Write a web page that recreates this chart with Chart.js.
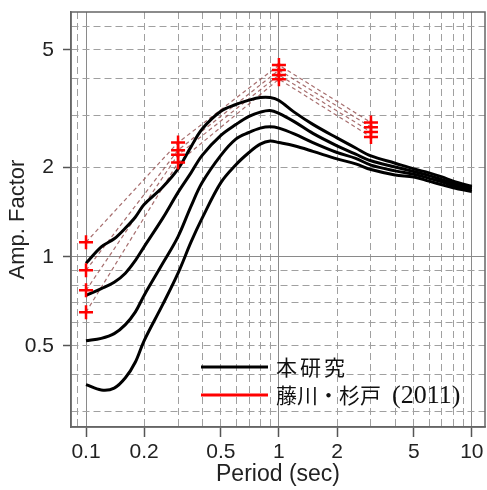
<!DOCTYPE html>
<html>
<head>
<meta charset="utf-8">
<script src="https://cdn.jsdelivr.net/npm/chart.js@4.4.0/dist/chart.umd.min.js"></script>
<style>
  html, body { margin: 0; padding: 0; background: #fff; }
  canvas { display: block; }
</style>
</head>
<body>
<canvas id="ampChart" width="487" height="490"></canvas>
<script>
// periods (sec) for the four study curves
const periods = [0.1, 0.12, 0.14, 0.16, 0.18, 0.2, 0.25, 0.3, 0.35, 0.4, 0.5, 0.6, 0.7, 0.8, 0.9, 1, 1.2, 1.5, 2, 2.5, 3, 4, 5, 6, 7, 8, 10];
const ampA = [0.95, 1.08, 1.15, 1.25, 1.36, 1.5, 1.72, 1.98, 2.35, 2.7, 3.1, 3.27, 3.38, 3.45, 3.45, 3.37, 3.08, 2.8, 2.52, 2.33, 2.19, 2.07, 1.98, 1.92, 1.86, 1.8, 1.73];
const ampB = [0.74, 0.78, 0.82, 0.88, 0.97, 1.08, 1.35, 1.65, 1.92, 2.2, 2.57, 2.8, 2.98, 3.08, 3.12, 3.05, 2.86, 2.61, 2.37, 2.22, 2.11, 2.01, 1.94, 1.88, 1.82, 1.77, 1.71];
const ampC = [0.52, 0.53, 0.55, 0.59, 0.65, 0.74, 0.95, 1.17, 1.48, 1.78, 2.2, 2.5, 2.63, 2.72, 2.75, 2.72, 2.6, 2.43, 2.25, 2.15, 2.04, 1.95, 1.9, 1.84, 1.79, 1.74, 1.69];
const ampD = [0.37, 0.355, 0.36, 0.39, 0.44, 0.52, 0.69, 0.88, 1.12, 1.35, 1.78, 2.05, 2.25, 2.4, 2.46, 2.43, 2.37, 2.27, 2.14, 2.06, 1.97, 1.89, 1.86, 1.8, 1.75, 1.71, 1.66];

// Fujikawa & Sugito (2011) points
const fujiPeriods = [0.1, 0.3, 1, 3];
const fuji1 = [1.12, 2.43, 4.44, 2.84];
const fuji2 = [0.9, 2.29, 4.27, 2.74];
const fuji3 = [0.77, 2.21, 4.11, 2.64];
const fuji4 = [0.65, 2.08, 3.98, 2.54];

// axis ticks / grid
const xTickLabels = [0.1, 0.2, 0.5, 1, 2, 5, 10];
const yTickLabels = [0.5, 1, 2, 5];
const xGrid = [0.09, 0.1, 0.2, 0.3, 0.4, 0.5, 0.6, 0.7, 0.8, 0.9, 1, 2, 3, 4, 5, 6, 7, 8, 9, 10];
const yGrid = [0.3, 0.4, 0.5, 0.6, 0.7, 0.8, 0.9, 1, 2, 3, 4, 5, 6];
const decades = [0.1, 1, 10];
const legendLabels = ['本研究', '藤川・杉戸', '(2011)'];

const toPts = (xs, ys) => xs.map((x, i) => ({ x: x, y: ys[i] }));
const isDecade = v => decades.includes(v);

const studyCurve = ys => ({
    data: toPts(periods, ys),
    borderColor: '#000',
    borderWidth: 3,
    pointRadius: 0,
    showLine: true,
    tension: 0.35
});

const fujiLine = ys => ({
    data: toPts(fujiPeriods, ys),
    borderColor: 'rgba(150, 85, 85, 0.85)',
    borderWidth: 1.2,
    borderDash: [4, 3],
    pointRadius: 0,
    showLine: true
});

const fujiCross = {
    data: [].concat(toPts(fujiPeriods, fuji1), toPts(fujiPeriods, fuji2), toPts(fujiPeriods, fuji3), toPts(fujiPeriods, fuji4)),
    pointStyle: 'cross',
    pointRadius: 7,
    pointBorderWidth: 2.5,
    pointBorderColor: '#ff0000',
    showLine: false
};

const boxPlugin = {
    id: 'box',
    afterDraw(chart) {
        const { ctx, chartArea: a } = chart;
        ctx.save();
        ctx.strokeStyle = '#666';
        ctx.lineWidth = 1.5;
        ctx.strokeRect(a.left, a.top, a.right - a.left, a.bottom - a.top);
        ctx.restore();
    }
};

const jpLegend = {
    id: 'jpLegend',
    afterDraw(chart) {
        const { ctx, chartArea: a } = chart;
        const x0 = a.left + 130, x1 = a.left + 197, tx = a.left + 205;
        const rows = [
            { y: a.bottom - 60, color: '#000' },
            { y: a.bottom - 32, color: '#ff0000' }
        ];
        ctx.save();
        rows.forEach(r => {
            ctx.strokeStyle = r.color;
            ctx.lineWidth = 3;
            ctx.beginPath();
            ctx.moveTo(x0, r.y);
            ctx.lineTo(x1, r.y);
            ctx.stroke();
        });
        ctx.fillStyle = '#111';
        ctx.textBaseline = 'middle';
        ctx.font = '21px "Noto Sans CJK JP"';
        ctx.letterSpacing = '3px';
        ctx.fillText(legendLabels[0], tx, rows[0].y);
        ctx.letterSpacing = '0px';
        ctx.fillText(legendLabels[1], tx, rows[1].y);
        const w = ctx.measureText(legendLabels[1]).width;
        ctx.font = '26px "Liberation Serif"';
        ctx.fillText(legendLabels[2], tx + w + 11, rows[1].y + 1);
        ctx.restore();
    }
};

const tickFont = { family: 'Liberation Sans, Arial, sans-serif', size: 21 };

new Chart(document.getElementById('ampChart').getContext('2d'), {
    type: 'scatter',
    data: {
        datasets: [
            fujiCross,
            studyCurve(ampA), studyCurve(ampB), studyCurve(ampC), studyCurve(ampD),
            fujiLine(fuji1), fujiLine(fuji2), fujiLine(fuji3), fujiLine(fuji4)
        ]
    },
    options: {
        responsive: false,
        animation: false,
        devicePixelRatio: 1,
        layout: { autoPadding: false, padding: { left: 0, top: 12, right: 2, bottom: 0 } },
        plugins: {
            legend: { display: false },
            tooltip: { enabled: false }
        },
        scales: {
            x: {
                type: 'logarithmic',
                min: 0.0836,
                max: 11.7,
                bounds: 'data',
                afterBuildTicks: s => { s.ticks = xGrid.map(v => ({ value: v })); },
                afterFit: s => { s.height = 63; s.paddingLeft = 0; s.paddingRight = 0; },
                ticks: {
                    autoSkip: false,
                    maxRotation: 0,
                    padding: 3,
                    color: '#222',
                    font: tickFont,
                    callback: v => xTickLabels.includes(v) ? String(v) : ''
                },
                grid: {
                    color: c => c.tick && isDecade(c.tick.value) ? '#8a8a8a' : '#a0a0a0',
                    lineWidth: 1,
                    tickLength: 10,
                    tickWidth: 1.5,
                    tickColor: c => c.tick && xTickLabels.includes(c.tick.value) ? '#555' : 'rgba(0,0,0,0)'
                },
                border: {
                    color: '#666',
                    width: 1.5,
                    dash: c => (c.tick && !isDecade(c.tick.value)) ? [7, 4] : []
                },
                title: {
                    display: true,
                    text: 'Period (sec)',
                    color: '#222',
                    font: { family: tickFont.family, size: 23 },
                    padding: { top: 0, bottom: 2 }
                }
            },
            y: {
                type: 'logarithmic',
                min: 0.266,
                max: 6.71,
                bounds: 'data',
                afterBuildTicks: s => { s.ticks = yGrid.map(v => ({ value: v })); },
                afterFit: s => { s.width = 71; s.paddingTop = 0; s.paddingBottom = 0; },
                ticks: {
                    autoSkip: false,
                    padding: 9,
                    color: '#222',
                    font: tickFont,
                    callback: v => yTickLabels.includes(v) ? String(v) : ''
                },
                grid: {
                    color: c => c.tick && c.tick.value === 1 ? '#8a8a8a' : '#a0a0a0',
                    lineWidth: 1,
                    tickLength: 8,
                    tickWidth: 1.5,
                    tickColor: c => c.tick && yTickLabels.includes(c.tick.value) ? '#555' : 'rgba(0,0,0,0)'
                },
                border: {
                    color: '#666',
                    width: 1.5,
                    dash: c => (c.tick && c.tick.value !== 1) ? [7, 4] : []
                },
                title: {
                    display: true,
                    text: 'Amp. Factor',
                    color: '#222',
                    font: { family: tickFont.family, size: 22 },
                    padding: { top: 5, bottom: 0 }
                }
            }
        }
    },
    plugins: [boxPlugin, jpLegend]
});
</script>
</body>
</html>
